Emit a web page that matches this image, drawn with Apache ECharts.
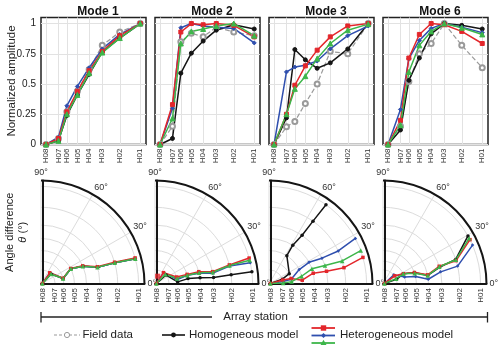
<!DOCTYPE html>
<html>
<head>
<meta charset="utf-8">
<script src="https://cdn.jsdelivr.net/npm/echarts@6/dist/echarts.min.js"></script>
<style>
html, body { margin: 0; padding: 0; background: #fff; }
#main { width: 500px; height: 351px; }
</style>
</head>
<body>
<div id="main"></div>
<script type="text/javascript">
var stations = ['H08', 'H07', 'H06', 'H05', 'H04', 'H03', 'H02', 'H01'];
var stationPos = [0, 12.3, 20.6, 31, 42.7, 55.7, 73, 93.3];
var modes = ['Mode 1', 'Mode 2', 'Mode 3', 'Mode 6'];
var ampTicks = [0, 0.25, 0.5, 0.75, 1];

// normalized amplitude, one row per mode
var fieldAmp = [
    [0, 0.05, 0.27, 0.44, 0.62, 0.82, 0.93, 1],
    [0, 0.15, 0.85, 0.92, 0.89, 0.97, 0.93, 0.9],
    [0, 0.146, 0.19, 0.34, 0.5, 0.77, 0.75, 1],
    [0, 0.15, 0.52, 0.75, 0.835, 1, 0.82, 0.635]
];
var homoAmp = [
    [0, 0.03, 0.24, 0.41, 0.58, 0.765, 0.88, 1],
    [0, 0.05, 0.59, 0.755, 0.855, 0.945, 0.99, 0.955],
    [0, 0.22, 0.785, 0.70, 0.63, 0.675, 0.79, 1],
    [0, 0.12, 0.53, 0.715, 0.915, 1, 0.985, 0.955]
];
var redAmp = [
    [0, 0.05, 0.27, 0.44, 0.61, 0.77, 0.90, 1],
    [0, 0.33, 0.93, 1, 0.99, 1, 0.985, 0.89],
    [0, 0.25, 0.49, 0.65, 0.78, 0.89, 0.98, 1],
    [0, 0.2, 0.715, 0.91, 1, 0.99, 0.935, 0.835]
];
var blueAmp = [
    [0, 0.06, 0.32, 0.48, 0.635, 0.79, 0.91, 1],
    [0, 0.3, 0.965, 1, 0.98, 0.97, 0.96, 0.84],
    [0, 0.60, 0.64, 0.655, 0.69, 0.79, 0.9, 0.98],
    [0, 0.29, 0.71, 0.86, 0.96, 1, 0.97, 0.925]
];
var greenAmp = [
    [0, 0.03, 0.25, 0.41, 0.59, 0.76, 0.88, 1],
    [0, 0.215, 0.835, 0.935, 0.955, 0.98, 1, 0.9],
    [0, 0.25, 0.46, 0.565, 0.71, 0.835, 0.945, 0.995],
    [0, 0.16, 0.6, 0.82, 0.935, 1, 0.965, 0.91]
];

// angle difference (deg), one row per mode
var homoAngle = [
    [20, 45, 14, 27, 23, 16.5, 16, 15],
    [20, 39, 5.3, 9.3, 8, 6.3, 7, 7.2],
    [20, 20, 27, 57.8, 58.5, 55.8, 55, 54.3],
    [20, 19, 26.6, 20, 10.8, 16.5, 18.7, 29.5]
];
var redAngle = [
    [20, 52, 14.5, 27.5, 23.5, 17, 16.5, 15.5],
    [20, 53, 17.9, 16.7, 15.7, 12.1, 14.4, 15.4],
    [20, 16, 14, 6.5, 13.7, 12.5, 12.3, 15.8],
    [20, 35, 26.6, 20, 11.6, 17.5, 17.7, 27]
];
var blueAngle = [
    [20, 52, 14, 27, 23, 16.5, 16, 15],
    [20, 53, 11.4, 15.2, 13.8, 10.6, 13.5, 12.6],
    [20, 10, 12, 25.5, 28.5, 26, 25.5, 27.8],
    [20, 40, 18, 13, 6, 11.9, 13.5, 23.5]
];
var greenAngle = [
    [20, 45, 14, 27, 23, 16.5, 16, 15],
    [20, 43.6, 14.3, 15.2, 14.2, 11.5, 13.9, 14.1],
    [20, 4, 6, 13.4, 19.5, 18.3, 17.5, 20],
    [20, 22, 26.6, 18.6, 10.8, 17, 18.4, 28]
];
// lone red marker near the origin of the Mode 2 polar panel [radius, angle]
var mode2RedExtra = [[6.5, 72]];

var RED = '#e3262b', BLUE = '#2f4fae', GREEN = '#3db64a', BLACK = '#151515', GREY = '#9a9a9a';
var FONT = 'Liberation Sans';

var panelLeft = [41, 155, 269, 383];
var polarCy = 284, polarR = 103.5;

function stationName(v) {
    for (var k = 0; k < stationPos.length; k++) {
        if (Math.abs(stationPos[k] - v) < 0.01) return stations[k];
    }
    return '';
}
function pairs(vals) {
    return stationPos.map(function (p, k) { return [p, vals[k]]; });
}

var titles = [], topGrids = [], botGrids = [], topX = [], botX = [], topY = [], botY = [];
var polars = [], angleAxes = [], radiusAxes = [], series = [];

var lineDefs = [
    { name: 'Field data', amp: fieldAmp, color: GREY, symbol: 'emptyCircle', size: 5, type: 'dashed', width: 1.2 },
    { name: 'Homogeneous model', amp: homoAmp, ang: homoAngle, color: BLACK, symbol: 'circle', size: 4, type: 'solid', width: 1.5 },
    { name: 'Heterogeneous model B', amp: blueAmp, ang: blueAngle, color: BLUE, symbol: 'diamond', size: 4, type: 'solid', width: 1.5 },
    { name: 'Heterogeneous model R', amp: redAmp, ang: redAngle, color: RED, symbol: 'rect', size: 4, type: 'solid', width: 1.5 },
    { name: 'Heterogeneous model G', amp: greenAmp, ang: greenAngle, color: GREEN, symbol: 'triangle', size: 5, type: 'solid', width: 1.5 }
];

for (var i = 0; i < 4; i++) {
    titles.push({
        text: modes[i], left: panelLeft[i] + 52, top: 1, textAlign: 'center',
        textStyle: { fontFamily: FONT, fontSize: 12, fontWeight: 'bold', color: '#111' }
    });

    // top: amplitude panel
    topGrids.push({ left: panelLeft[i], top: 17.5, width: 105, height: 127, show: true, borderColor: '#222', borderWidth: 1.5, backgroundColor: 'transparent' });
    topX.push({
        gridIndex: i, type: 'value', min: -5, max: 99,
        axisLine: { show: false },
        axisTick: { show: false, customValues: stationPos },
        axisLabel: { customValues: stationPos, rotate: 90, fontSize: 8, margin: 4, color: '#333', fontFamily: FONT, formatter: stationName },
        splitLine: { show: true, lineStyle: { color: '#e2e2e2', width: 1 } }
    });
    topY.push({
        gridIndex: i, type: 'value', min: 0, max: 1.05,
        axisLine: { show: false },
        axisTick: { show: false, customValues: ampTicks },
        axisLabel: { show: i === 0, customValues: ampTicks, fontSize: 10, margin: 5, color: '#222', fontFamily: FONT },
        splitLine: { show: true, lineStyle: { color: '#e2e2e2', width: 1 } },
        name: i === 0 ? 'Normalized amplitude' : '',
        nameLocation: 'middle', nameGap: 23, nameMoveOverlap: false,
        nameTextStyle: { fontSize: 11.5, color: '#222', fontFamily: FONT }
    });

    // bottom: frame for the polar panel (0° and 90° edges, station labels)
    botGrids.push({ left: panelLeft[i], top: polarCy - polarR, width: polarR, height: polarR });
    botX.push({
        gridIndex: 4 + i, type: 'value', min: -1.5, max: 99,
        axisLine: { show: true, lineStyle: { color: BLACK, width: 2 } },
        axisTick: { show: false, customValues: stationPos },
        axisLabel: { customValues: stationPos, rotate: 90, fontSize: 8, margin: 4, color: '#333', fontFamily: FONT, formatter: stationName },
        splitLine: { show: false }
    });
    botY.push({
        gridIndex: 4 + i, type: 'value', min: 0, max: 1,
        axisLine: { show: true, lineStyle: { color: BLACK, width: 2 } },
        axisTick: { show: false }, axisLabel: { show: false }, splitLine: { show: false },
        name: i === 0 ? '{a|Angle difference}\n{b|θ} {a|(°)}' : '',
        nameLocation: 'middle', nameGap: 12, nameMoveOverlap: false,
        nameTextStyle: {
            color: '#222', fontFamily: FONT, lineHeight: 12.5,
            rich: { a: { fontSize: 11, lineHeight: 12.5, fontFamily: FONT, color: '#222' }, b: { fontSize: 11, lineHeight: 12.5, fontStyle: 'italic', fontFamily: FONT, color: '#222' } }
        }
    });

    polars.push({ center: [panelLeft[i], polarCy], radius: polarR });
    angleAxes.push({
        polarIndex: i, type: 'value', min: 0, max: 90, interval: 30,
        startAngle: 0, endAngle: 90, clockwise: false,
        axisLine: { lineStyle: { color: BLACK, width: 2 } },
        axisTick: { show: false },
        axisLabel: { formatter: '{value}°', fontSize: 9, margin: 3, color: '#333', fontFamily: FONT },
        splitLine: { show: true, lineStyle: { color: '#dcdcdc', width: 1 } }
    });
    radiusAxes.push({
        polarIndex: i, type: 'value', min: -1.5, max: 99,
        axisLine: { show: false },
        axisTick: { show: false, customValues: stationPos },
        axisLabel: { show: false },
        splitLine: { show: true, lineStyle: { color: '#dcdcdc', width: 1 } }
    });

    lineDefs.forEach(function (d) {
        series.push({
            name: d.name, type: 'line', xAxisIndex: i, yAxisIndex: i,
            data: pairs(d.amp[i]),
            symbol: d.symbol, symbolSize: d.size,
            lineStyle: { color: d.color, width: d.width, type: d.type },
            itemStyle: { color: d.color, borderColor: d.color },
            silent: true
        });
        if (d.ang) {
            series.push({
                name: d.name, type: 'line', coordinateSystem: 'polar', polarIndex: i,
                data: pairs(d.ang[i]),
                symbol: d.symbol, symbolSize: d.size - 0.5,
                lineStyle: { color: d.color, width: d.width },
                itemStyle: { color: d.color },
                silent: true
            });
        }
    });
}

series.push({
    type: 'scatter', coordinateSystem: 'polar', polarIndex: 1,
    data: mode2RedExtra, symbol: 'rect', symbolSize: 5,
    itemStyle: { color: RED }, silent: true
});

// shared x label and legend
var legendY = 335;
var graphics = [
    { type: 'line', shape: { x1: 41, y1: 317, x2: 212, y2: 317 }, style: { stroke: '#222', lineWidth: 1.3 } },
    { type: 'line', shape: { x1: 299, y1: 317, x2: 487.5, y2: 317 }, style: { stroke: '#222', lineWidth: 1.3 } },
    { type: 'line', shape: { x1: 41, y1: 312, x2: 41, y2: 322.5 }, style: { stroke: '#222', lineWidth: 1.3 } },
    { type: 'line', shape: { x1: 487.5, y1: 312, x2: 487.5, y2: 322.5 }, style: { stroke: '#222', lineWidth: 1.3 } },
    { type: 'text', x: 255.5, y: 317, style: { text: 'Array station', font: '11.5px "Liberation Sans"', fill: '#222', align: 'center', verticalAlign: 'middle' } },

    { type: 'line', shape: { x1: 54, y1: legendY, x2: 80, y2: legendY }, style: { stroke: GREY, lineWidth: 1.2, lineDash: [3, 2] } },
    { type: 'circle', shape: { cx: 67, cy: legendY, r: 2.6 }, style: { fill: '#fff', stroke: GREY, lineWidth: 1 } },
    { type: 'text', x: 82.5, y: legendY, style: { text: 'Field data', font: '11.5px "Liberation Sans"', fill: '#222', verticalAlign: 'middle' } },

    { type: 'line', shape: { x1: 162, y1: legendY, x2: 185, y2: legendY }, style: { stroke: BLACK, lineWidth: 1.6 } },
    { type: 'circle', shape: { cx: 173.5, cy: legendY, r: 2.4 }, style: { fill: BLACK } },
    { type: 'text', x: 189, y: legendY, style: { text: 'Homogeneous model', font: '11.5px "Liberation Sans"', fill: '#222', verticalAlign: 'middle' } },

    { type: 'line', shape: { x1: 311.5, y1: legendY - 7, x2: 335, y2: legendY - 7 }, style: { stroke: RED, lineWidth: 1.8 } },
    { type: 'rect', shape: { x: 320.8, y: legendY - 9.7, width: 5.4, height: 5.4 }, style: { fill: RED } },
    { type: 'line', shape: { x1: 311.5, y1: legendY + 0.5, x2: 335, y2: legendY + 0.5 }, style: { stroke: BLUE, lineWidth: 1.8 } },
    { type: 'polygon', shape: { points: [[323.5, legendY - 2], [326, legendY + 0.5], [323.5, legendY + 3], [321, legendY + 0.5]] }, style: { fill: BLUE } },
    { type: 'line', shape: { x1: 311.5, y1: legendY + 8, x2: 335, y2: legendY + 8 }, style: { stroke: GREEN, lineWidth: 1.8 } },
    { type: 'polygon', shape: { points: [[323.5, legendY + 4.8], [326.5, legendY + 10], [320.5, legendY + 10]] }, style: { fill: GREEN } },
    { type: 'text', x: 340, y: legendY, style: { text: 'Heterogeneous model', font: '11.5px "Liberation Sans"', fill: '#222', verticalAlign: 'middle' } }
];

var myChart = echarts.init(document.getElementById('main'), null, { renderer: 'canvas' });
myChart.setOption({
    animation: false,
    backgroundColor: '#fff',
    textStyle: { fontFamily: FONT },
    title: titles,
    grid: topGrids.concat(botGrids),
    xAxis: topX.concat(botX),
    yAxis: topY.concat(botY),
    polar: polars,
    angleAxis: angleAxes,
    radiusAxis: radiusAxes,
    series: series,
    graphic: graphics
});
</script>
</body>
</html>
